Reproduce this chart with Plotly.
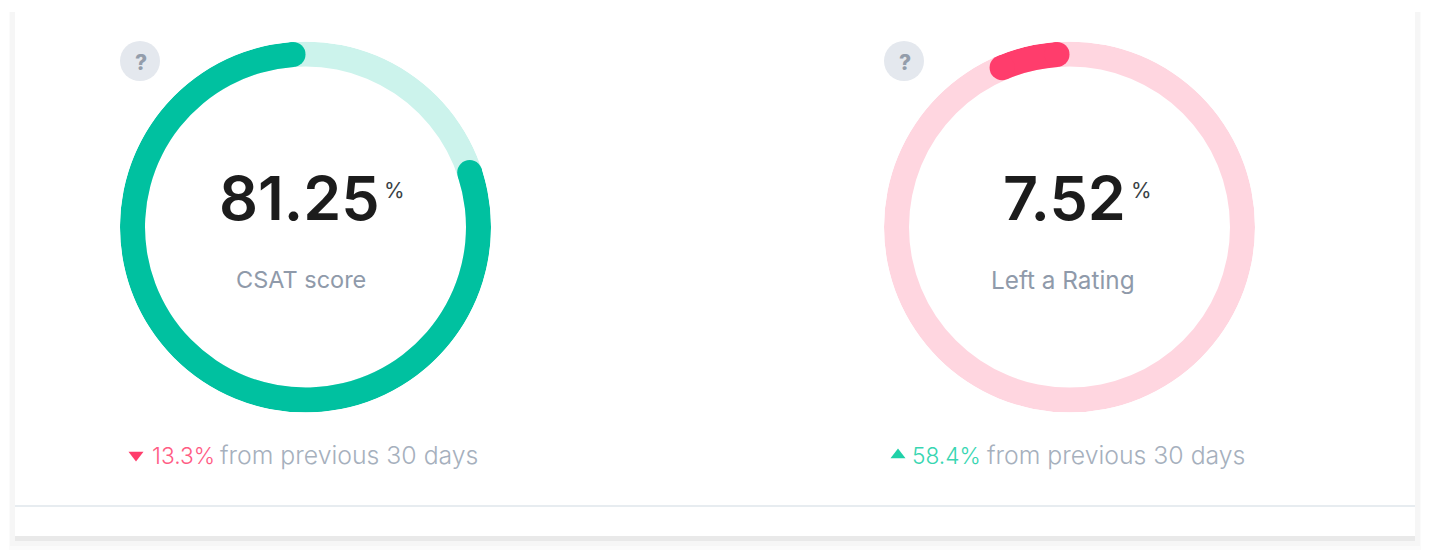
import plotly.graph_objects as go

W, H = 1431, 559
# data
metric_names = ["CSAT score", "Left a Rating"]
metric_values = [81.25, 7.52]
metric_text = ["81.25", "7.52"]
delta_text = ["13.3%", "58.4%"]
delta_suffix = "from previous 30 days"

# style / layout
arc_col = ["#00C1A0", "#FF3D6C"]
track_col = ["#CCF3EC", "#FFD6E0"]
delta_col = ["#FF5C84", "#38D6B2"]
centers = [305.5, 1069.5]
CY = 227
R_OUT, R_IN = 185.5, 160.5
SW = R_OUT - R_IN
FONT = "Inter"
cap_deg = (SW / 2) / ((R_OUT + R_IN) / 2) * 57.2958
val_right = [381, 1127]
pct_left = [383, 1129.5]
label_x = [300.5, 1063]
label_size = [23.5, 24.3]
tri_xs = [136, 898]
delta_xs = [151, 911]
suffix_xs = [218.5, 985.5]

def px(x): return x / W
def py(y): return 1 - y / H

fig = go.Figure()
shapes, ann = [], []

def rect(x0, y0, x1, y1, col):
    shapes.append(dict(type="rect", xref="paper", yref="paper", layer="below",
                       x0=px(x0), x1=px(x1), y0=py(y1), y1=py(y0),
                       fillcolor=col, line=dict(width=0)))

def text(x, y, s, size, col, anchor="center", weight=400):
    ann.append(dict(xref="paper", yref="paper", x=px(x), y=py(y), text=s, showarrow=False,
                    xanchor=anchor, yanchor="middle", borderpad=0,
                    font=dict(family=FONT, size=size, color=col, weight=weight)))

# card with layered shadow
rect(9, 12, 1421, 550, "#FBFBFB")
rect(10, 12, 1420, 546, "#F6F6F6")
rect(15, 14, 1415, 541, "#E9E9E9")
rect(15, 0, 1415, 536, "#FFFFFF")
rect(15, 505, 1415, 507, "#E7ECF0")

for i, (v, name) in enumerate(zip(metric_values, metric_names)):
    cx = centers[i]
    pid = "polar" if i == 0 else "polar2"
    span = v * 3.6 - 2 * cap_deg
    end = 360 - cap_deg
    start = end - span
    fig.add_trace(go.Barpolar(r=[SW], base=[R_IN], theta=[180], width=[360],
                              marker=dict(color=track_col[i], line=dict(width=0)),
                              subplot=pid, hoverinfo="skip", showlegend=False))
    fig.add_trace(go.Barpolar(r=[SW], base=[R_IN], theta=[(start + end) / 2], width=[span],
                              marker=dict(color=arc_col[i], line=dict(width=0)),
                              subplot=pid, hoverinfo="skip", showlegend=False))
    fig.add_trace(go.Scatterpolar(r=[(R_IN + R_OUT) / 2] * 2, theta=[start, end], mode="markers",
                                  marker=dict(color=arc_col[i], size=SW, line=dict(width=0)),
                                  subplot=pid, hoverinfo="skip", showlegend=False))
    polar = dict(domain=dict(x=[px(cx - R_OUT), px(cx + R_OUT)], y=[py(CY + R_OUT), py(CY - R_OUT)]),
                 bgcolor="rgba(0,0,0,0)", barmode="overlay",
                 radialaxis=dict(visible=False, range=[0, R_OUT]),
                 angularaxis=dict(visible=False, direction="clockwise", rotation=90))
    fig.update_layout(**{pid: polar})

    dx = cx - centers[0]
    # help badge
    shapes.append(dict(type="circle", xref="paper", yref="paper", layer="below",
                       x0=px(120 + dx), x1=px(160 + dx), y0=py(81), y1=py(41),
                       fillcolor="#E4E8EE", line=dict(width=0)))
    text(141 + dx, 62.5, "?", 21, "#939DAB", weight=800)
    # value
    text(val_right[i], 198, metric_text[i], 61, "#1C1C1C", anchor="right", weight=600)
    text(pct_left[i], 190, "%", 21, "#3A3F45", anchor="left")
    text(label_x[i], 279.5, name, label_size[i], "#8F9AAA", weight=400)
    # delta row
    text(delta_xs[i], 455, delta_text[i], 22.7, delta_col[i], anchor="left", weight=300)
    text(suffix_xs[i], 455, delta_suffix, 24.8, "#A6B0BD", anchor="left", weight=300)
    fig.add_trace(go.Scatter(x=[px(tri_xs[i])], y=[py(455)], mode="markers", xaxis="x", yaxis="y",
                             marker=dict(symbol="triangle-down" if i == 0 else "triangle-up",
                                         size=13, color="#FF3D6C" if i == 0 else "#1FD1A8",
                                         line=dict(width=0)),
                             hoverinfo="skip", showlegend=False))

fig.update_layout(
    width=W, height=H, margin=dict(l=0, r=0, t=0, b=0), autosize=False,
    paper_bgcolor="#FFFFFF", plot_bgcolor="rgba(0,0,0,0)",
    shapes=shapes, annotations=ann, showlegend=False,
    xaxis=dict(visible=False, range=[0, 1], domain=[0, 1]),
    yaxis=dict(visible=False, range=[0, 1], domain=[0, 1]),
)
fig.write_html("out.html", config=dict(displayModeBar=False),
               post_script="document.body.style.margin='0';document.documentElement.style.overflow='hidden';")
